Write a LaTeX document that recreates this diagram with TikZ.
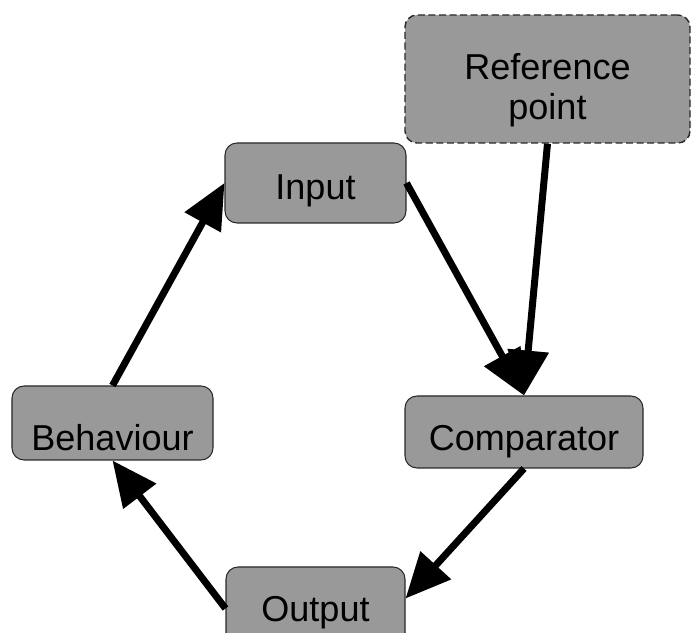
\documentclass[tikz,border=0pt]{standalone}
\usepackage{fontspec}
\setmainfont{Liberation Sans}
\usetikzlibrary{arrows.meta}
\definecolor{boxgray}{RGB}{153,153,153}
\definecolor{edgegray}{RGB}{40,40,40}
\begin{document}
\begin{tikzpicture}[
		stage/.style={draw=edgegray,fill=boxgray,rounded corners=0.24cm,line width=0.6pt,
			inner sep=0pt,font=\fontsize{20.5}{23}\selectfont},
		flow/.style={line width=0.14cm,-{Triangle[length=0.9cm,width=0.8cm]}}]
		\useasboundingbox (0,0) rectangle (13.9,12.66);
		\node[stage,dashed,dash pattern=on 4pt off 2pt,line width=0.8pt,align=center,
			minimum width=5.7cm,minimum height=2.56cm,text height=1.64cm,text depth=0cm]
			(refpt) at (10.95,11.08) {Reference\\point};
		\node[stage,minimum width=3.62cm,minimum height=1.6cm,text height=0.83cm,text depth=0.15cm]
			(input) at (6.31,9.0) {Input};
		\node[stage,minimum width=4.02cm,minimum height=1.48cm,text height=1.08cm,text depth=0cm]
			(behaviour) at (2.25,4.2) {Behaviour};
		\node[stage,minimum width=4.76cm,minimum height=1.44cm,text height=0.87cm,text depth=0.15cm]
			(comparator) at (10.48,4.02) {Comparator};
		\node[stage,minimum width=3.58cm,minimum height=1.66cm,text height=0.67cm,text depth=0.15cm]
			(output) at (6.31,0.49) {Output};
		\draw[flow] (behaviour.north) -- (input.west);
		\draw[flow] (input.east) -- (comparator.north);
		\draw[flow] (refpt.south) -- (comparator.north);
		\draw[flow] (comparator.south) -- ([yshift=0.2cm]output.east);
		\draw[flow] (output.west) -- (behaviour.south);
	\end{tikzpicture}
\end{document}
